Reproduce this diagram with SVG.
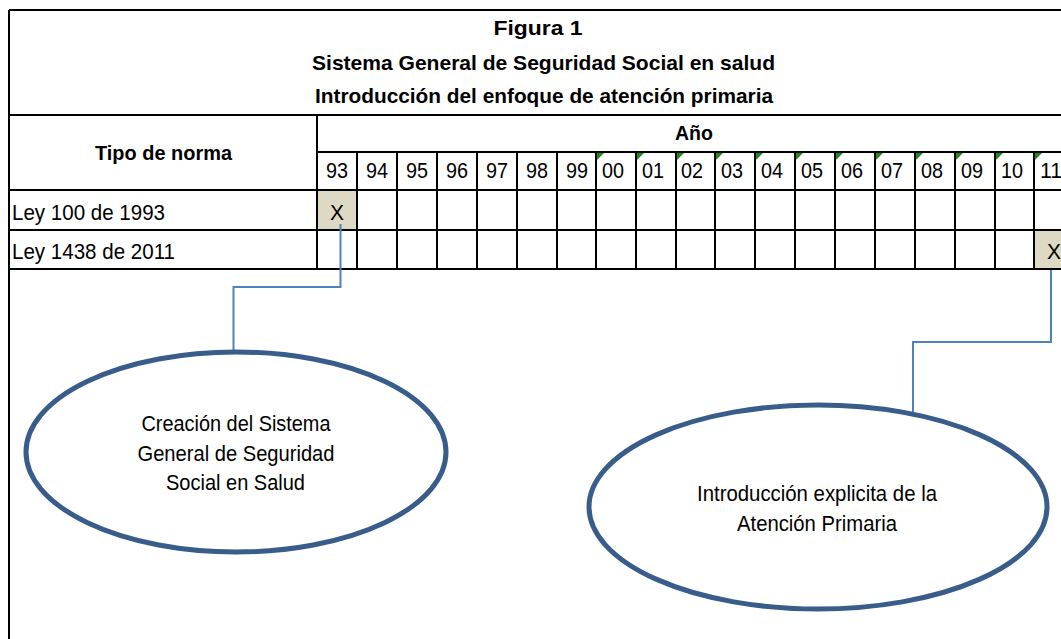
<svg xmlns="http://www.w3.org/2000/svg" width="1061" height="639" viewBox="0 0 1061 639">
<style>
text{font-family:"Liberation Sans",Arial,sans-serif;fill:#000}
.t{font-size:21px;font-weight:bold;text-anchor:middle}
.r{font-size:22.5px}
.c{text-anchor:middle}
.g{stroke:#000;stroke-width:2;fill:none}
.tri{fill:#1e8a1e}
.conn{stroke:#4f81bd;stroke-width:2;fill:none}
.ell{fill:#fff;stroke:#385d8a;stroke-width:5}
</style>
<rect width="1061" height="639" fill="#fff"/>
<g id="title">
<text class="t" x="538" y="35" textLength="89" lengthAdjust="spacingAndGlyphs">Figura 1</text>
<text class="t" x="543.5" y="70" textLength="463" lengthAdjust="spacingAndGlyphs">Sistema General de Seguridad Social en salud</text>
<text class="t" x="544" y="103" textLength="458" lengthAdjust="spacingAndGlyphs">Introducción del enfoque de atención primaria</text>
</g>
<g id="table">
<rect x="317" y="190" width="40" height="40" fill="#ddd9c4"/>
<rect x="1034" y="230" width="40" height="39" fill="#ddd9c4"/>
<path class="g" d="M9,10H1061M9,115H1061M317,152H1061M9,190H1061M9,230H1061M9,269H1061M9,10V639M317,115V269"/>
<path class="g" d="M357,152V269M397,152V269M437,152V269M477,152V269M517,152V269M557,152V269M596,152V269M636,152V269M676,152V269M715,152V269M755,152V269M795,152V269M835,152V269M875,152V269M915,152V269M955,152V269M995,152V269M1034,152V269"/>
<g class="tri">
<path d="M597,153h7l-7,7z"/><path d="M637,153h7l-7,7z"/><path d="M677,153h7l-7,7z"/><path d="M716,153h7l-7,7z"/><path d="M756,153h7l-7,7z"/><path d="M796,153h7l-7,7z"/><path d="M836,153h7l-7,7z"/><path d="M876,153h7l-7,7z"/><path d="M916,153h7l-7,7z"/><path d="M956,153h7l-7,7z"/><path d="M996,153h7l-7,7z"/><path d="M1035,153h7l-7,7z"/>
</g>
<text class="t" x="163.5" y="160" textLength="137" lengthAdjust="spacingAndGlyphs">Tipo de norma</text>
<text class="t" x="694" y="140" textLength="38" lengthAdjust="spacingAndGlyphs">Año</text>
<g class="r">
<text class="c" x="337" y="178" textLength="22" lengthAdjust="spacingAndGlyphs">93</text>
<text class="c" x="377" y="178" textLength="22" lengthAdjust="spacingAndGlyphs">94</text>
<text class="c" x="417" y="178" textLength="22" lengthAdjust="spacingAndGlyphs">95</text>
<text class="c" x="457" y="178" textLength="22" lengthAdjust="spacingAndGlyphs">96</text>
<text class="c" x="497" y="178" textLength="22" lengthAdjust="spacingAndGlyphs">97</text>
<text class="c" x="537" y="178" textLength="22" lengthAdjust="spacingAndGlyphs">98</text>
<text class="c" x="577" y="178" textLength="22" lengthAdjust="spacingAndGlyphs">99</text>
<text x="602" y="178" textLength="22" lengthAdjust="spacingAndGlyphs">00</text>
<text x="642" y="178" textLength="22" lengthAdjust="spacingAndGlyphs">01</text>
<text x="681" y="178" textLength="22" lengthAdjust="spacingAndGlyphs">02</text>
<text x="721" y="178" textLength="22" lengthAdjust="spacingAndGlyphs">03</text>
<text x="761" y="178" textLength="22" lengthAdjust="spacingAndGlyphs">04</text>
<text x="801" y="178" textLength="22" lengthAdjust="spacingAndGlyphs">05</text>
<text x="841" y="178" textLength="22" lengthAdjust="spacingAndGlyphs">06</text>
<text x="881" y="178" textLength="22" lengthAdjust="spacingAndGlyphs">07</text>
<text x="921" y="178" textLength="22" lengthAdjust="spacingAndGlyphs">08</text>
<text x="961" y="178" textLength="22" lengthAdjust="spacingAndGlyphs">09</text>
<text x="1001" y="178" textLength="22" lengthAdjust="spacingAndGlyphs">10</text>
<text x="1040" y="178" textLength="22" lengthAdjust="spacingAndGlyphs">11</text>
<text x="12" y="220" textLength="153" lengthAdjust="spacingAndGlyphs">Ley 100 de 1993</text>
<text x="12" y="259" textLength="163" lengthAdjust="spacingAndGlyphs">Ley 1438 de 2011</text>
<text class="c" x="337" y="220" textLength="14" lengthAdjust="spacingAndGlyphs">X</text>
<text class="c" x="1054" y="259" textLength="14" lengthAdjust="spacingAndGlyphs">X</text>
</g>
</g>
<g id="connectors">
<path class="conn" d="M340.5,224V287H233.5V352"/>
<path class="conn" d="M1051,270V342H913V412"/>
</g>
<g id="node-creacion">
<ellipse class="ell" cx="236" cy="452" rx="210" ry="100"/>
<text class="r c" x="236" y="431" textLength="189" lengthAdjust="spacingAndGlyphs">Creación del Sistema</text>
<text class="r c" x="236" y="461" textLength="197" lengthAdjust="spacingAndGlyphs">General de Seguridad</text>
<text class="r c" x="235.5" y="490" textLength="139" lengthAdjust="spacingAndGlyphs">Social en Salud</text>
</g>
<g id="node-introduccion">
<ellipse class="ell" cx="818" cy="507" rx="229" ry="102"/>
<text class="r c" x="817" y="501" textLength="240" lengthAdjust="spacingAndGlyphs">Introducción explicita de la</text>
<text class="r c" x="817" y="531" textLength="160" lengthAdjust="spacingAndGlyphs">Atención Primaria</text>
</g>
</svg>
